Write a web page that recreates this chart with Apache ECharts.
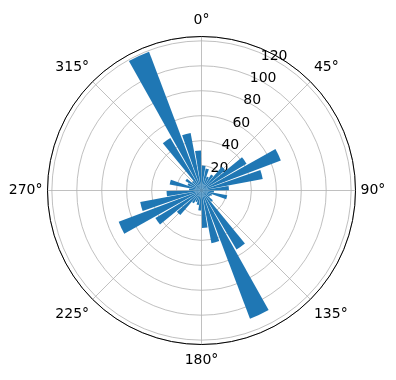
<!DOCTYPE html>
<html>
<head>
<meta charset="utf-8">
<script src="https://cdn.jsdelivr.net/npm/echarts@6/dist/echarts.min.js"></script>
<style>
  html, body { margin: 0; padding: 0; background: #fff; }
  #main { width: 396px; height: 380px; }
</style>
</head>
<body>
<div id="main"></div>
<script>
// direction bins, 10 degrees each, centred on 5, 15, ... 355
var binCenters = [];
for (var i = 0; i < 36; i++) {
  binCenters.push(String(i * 10 + 5));
}
// counts per bin
var counts = [
  20, 18, 12, 15, 25, 42, 68, 50, 22,   // 5 .. 85
  10, 21, 9, 8, 12, 55, 110, 43, 30,    // 95 .. 175
  16, 12, 10, 12, 26, 43, 71, 50, 28,   // 185 .. 265
  10, 26, 12, 15, 10, 49, 119, 47, 32   // 275 .. 355
];
var rTicks = [20, 40, 60, 80, 100, 120];
var angleTicks = [0, 45, 90, 135, 180, 225, 270, 315];

var rMax = 123.5;
var cx = 201.5, cy = 190.5, R = 154;
var font = 'DejaVu Sans';

var chart = echarts.init(document.getElementById('main'));

var option = {
  backgroundColor: '#fff',
  animation: false,
  polar: [
    { center: [cx, cy], radius: R },
    { center: [cx, cy], radius: R },
    { center: [cx, cy], radius: R }
  ],
  angleAxis: [
    {
      // grid + degree labels
      polarIndex: 0,
      type: 'value',
      min: 0,
      max: 360,
      interval: 45,
      startAngle: 90,
      clockwise: true,
      axisLine: { lineStyle: { color: '#000', width: 1 } },
      axisTick: { show: false },
      splitLine: { lineStyle: { color: '#b0b0b0', width: 0.8 } },
      axisLabel: {
        margin: 5,
        padding: [4, 0, 4, 0],
        color: '#000',
        fontFamily: font,
        fontSize: 14,
        formatter: function (v) {
          return angleTicks.indexOf(v) >= 0 ? v + '°' : '';
        }
      }
    },
    {
      // only used to place the radius labels at ~26 deg
      polarIndex: 1,
      type: 'value',
      min: 0,
      max: 360,
      startAngle: 64,
      clockwise: true,
      show: false
    },
    {
      polarIndex: 2,
      type: 'category',
      data: binCenters,
      startAngle: 90,
      clockwise: true,
      show: false
    }
  ],
  radiusAxis: [
    {
      polarIndex: 0,
      type: 'value',
      min: 0,
      max: rMax,
      interval: 20,
      axisLine: { show: false },
      axisTick: { show: false },
      axisLabel: { show: false },
      splitLine: { lineStyle: { color: '#b0b0b0', width: 0.8 } }
    },
    {
      polarIndex: 1,
      type: 'value',
      min: 0,
      max: rMax,
      interval: 20,
      axisLine: { show: false },
      axisTick: { show: false },
      splitLine: { show: false },
      axisLabel: {
        margin: 0,
        align: 'center',
        verticalAlign: 'middle',
        padding: [0, 0, 28, 14],
        color: '#000',
        fontFamily: font,
        fontSize: 14,
        formatter: function (v) {
          return rTicks.indexOf(v) >= 0 ? String(v) : '';
        }
      }
    },
    {
      polarIndex: 2,
      type: 'value',
      min: 0,
      max: rMax,
      show: false
    }
  ],
  series: [
    {
      type: 'bar',
      coordinateSystem: 'polar',
      polarIndex: 2,
      data: counts,
      barCategoryGap: '14%',
      itemStyle: { color: '#1f77b4' }
    }
  ]
};
chart.setOption(option);
</script>
</body>
</html>
